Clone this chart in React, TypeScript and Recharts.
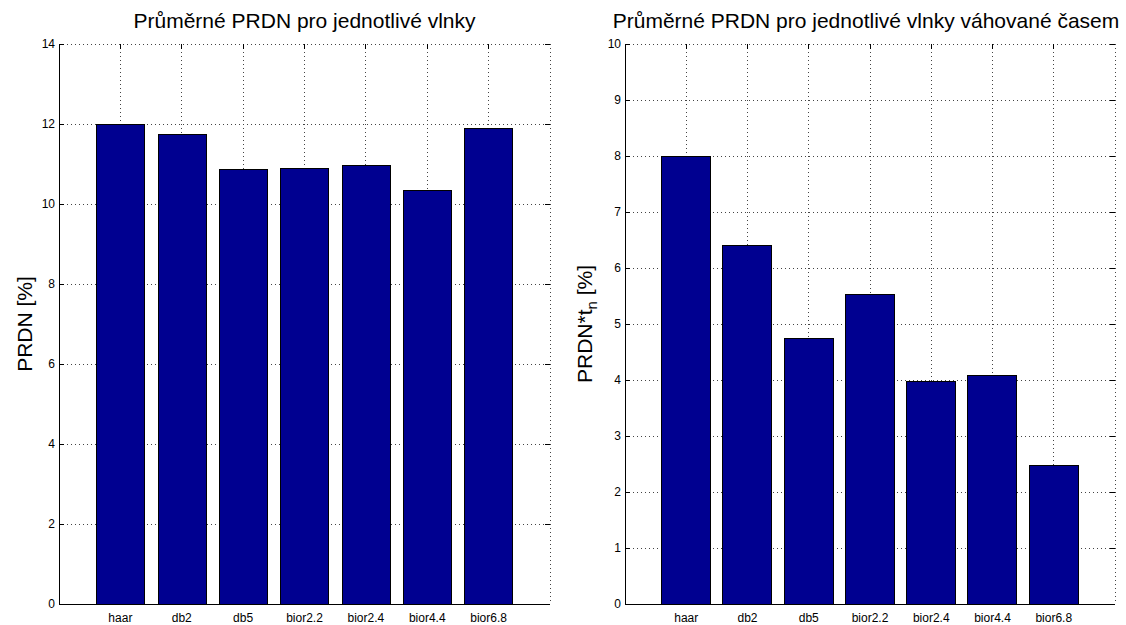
import { BarChart, Bar, XAxis, YAxis, CartesianGrid } from 'recharts'

// Mean PRDN per wavelet, plain and weighted by computation time
const wavelets = ['haar', 'db2', 'db5', 'bior2.2', 'bior2.4', 'bior4.4', 'bior6.8']
const positions = [1, 2, 3, 4, 5, 6, 7]
const prdnMean = [12.0, 11.73, 10.86, 10.89, 10.97, 10.33, 11.89]
const prdnWeighted = [8.0, 6.4, 4.75, 5.53, 3.97, 4.08, 2.47]
const prdnTicks = [0, 2, 4, 6, 8, 10, 12, 14]
const weightedTicks = [0, 1, 2, 3, 4, 5, 6, 7, 8, 9, 10]

const FONT = '"Liberation Sans", Arial, Helvetica, sans-serif'
const CHART_H = 625
const PLOT_TOP = 44
const X_AXIS_H = 21
const PLOT_BOTTOM = CHART_H - X_AXIS_H
const BAR_FILL = '#000090'
const GRID = '#444'
const TICK_FONT = 12

interface PanelProps {
  left: number
  width: number
  axisWidth: number
  marginRight: number
  values: number[]
  ticks: number[]
  barSize: number
}

function Panel({ left, width, axisWidth, marginRight, values, ticks, barSize }: PanelProps) {
  const data = positions.map((pos, i) => ({ pos, name: wavelets[i], value: values[i] }))
  const plotLeft = axisWidth
  const plotRight = width - marginRight
  const yMax = ticks[ticks.length - 1]

  // inward tick marks on both sides, label to the left
  const yTick = (props: any) => {
    const { y, payload } = props
    return (
      <g>
        <line x1={plotLeft} x2={plotLeft + 5} y1={y} y2={y} stroke="#000" />
        <line x1={plotRight - 5} x2={plotRight} y1={y} y2={y} stroke="#000" />
        <text x={plotLeft - 4} y={y + 4} textAnchor="end" fontSize={TICK_FONT} fill="#000" fontFamily={FONT}>
          {payload.value}
        </text>
      </g>
    )
  }

  const xTick = (props: any) => {
    const { x, payload } = props
    return (
      <g>
        <line x1={x} x2={x} y1={PLOT_TOP} y2={PLOT_TOP + 5} stroke="#000" />
        <text x={x} y={PLOT_BOTTOM + 18} textAnchor="middle" fontSize={TICK_FONT} fill="#000" fontFamily={FONT}>
          {wavelets[payload.value - 1]}
        </text>
      </g>
    )
  }

  return (
    <div style={{ position: 'absolute', left, top: 0 }}>
      <BarChart
        width={width}
        height={CHART_H}
        data={data}
        margin={{ top: PLOT_TOP, right: marginRight, bottom: 0, left: 0 }}
        style={{ shapeRendering: 'crispEdges' }}
      >
        <CartesianGrid stroke={GRID} strokeDasharray="1 3" />
        <XAxis
          dataKey="pos"
          type="number"
          domain={[0, 8]}
          ticks={positions}
          interval={0}
          height={X_AXIS_H}
          tickLine={false}
          axisLine={{ stroke: '#000' }}
          tick={xTick}
        />
        <XAxis
          xAxisId="top"
          orientation="top"
          type="number"
          domain={[0, 8]}
          height={0}
          tick={false}
          tickLine={false}
          axisLine={{ stroke: '#000' }}
        />
        <YAxis
          type="number"
          domain={[0, yMax]}
          ticks={ticks}
          interval={0}
          width={axisWidth}
          tickLine={false}
          axisLine={{ stroke: '#000' }}
          tick={yTick}
        />
        <YAxis
          yAxisId="right"
          orientation="right"
          type="number"
          domain={[0, yMax]}
          width={0}
          tick={false}
          tickLine={false}
          axisLine={{ stroke: '#000' }}
        />
        <Bar
          dataKey="value"
          fill={BAR_FILL}
          stroke="#000"
          strokeWidth={1}
          barSize={barSize}
          isAnimationActive={false}
        />
      </BarChart>
    </div>
  )
}

export default function App() {
  return (
    <div
      style={{
        position: 'absolute',
        left: 0,
        top: 0,
        width: 1126,
        height: 625,
        background: '#fff',
        fontFamily: FONT,
        overflow: 'hidden',
      }}
    >
      <Panel left={0} width={555} axisWidth={59} marginRight={5} values={prdnMean} ticks={prdnTicks} barSize={48} />
      <Panel left={560} width={566} axisWidth={65} marginRight={11} values={prdnWeighted} ticks={weightedTicks} barSize={49} />
      <svg
        width={1126}
        height={625}
        style={{ position: 'absolute', left: 0, top: 0, pointerEvents: 'none' }}
        fontFamily={FONT}
        fill="#000"
      >
        <text x={304.5} y={28} textAnchor="middle" fontSize={21}>
          Průměrné PRDN pro jednotlivé vlnky
        </text>
        <text x={866} y={28} textAnchor="middle" fontSize={21}>
          Průměrné PRDN pro jednotlivé vlnky váhované časem
        </text>
        <text transform="translate(32,324) rotate(-90)" textAnchor="middle" fontSize={21}>
          PRDN [%]
        </text>
        <text transform="translate(592,324) rotate(-90)" textAnchor="middle" fontSize={21}>
          PRDN*t
          <tspan fontSize={15} dy={5}>n</tspan>
          <tspan dy={-5}> [%]</tspan>
        </text>
      </svg>
    </div>
  )
}
